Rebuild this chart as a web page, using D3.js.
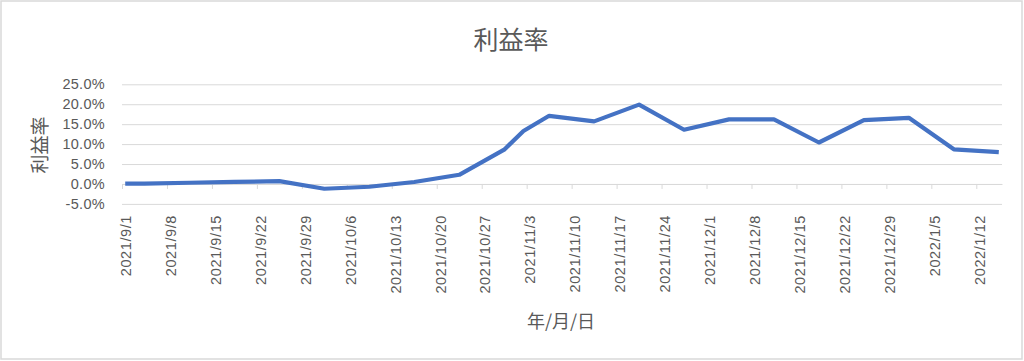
<!DOCTYPE html>
<html>
<head>
<meta charset="utf-8">
<script src="https://cdn.jsdelivr.net/npm/d3@7"></script>
<style>
  html, body { margin: 0; padding: 0; background: #fff; }
  svg { display: block; font-family: "Noto Sans CJK JP", "Noto Sans", sans-serif; }
</style>
</head>
<body>
<svg id="chart" width="1024" height="361"></svg>
<script>
// data (weekly points, percent)
const dates = [
    "2021/9/1", "2021/9/4", "2021/9/11", "2021/9/18", "2021/9/25",
    "2021/10/2", "2021/10/9", "2021/10/16", "2021/10/23", "2021/10/30",
    "2021/11/2", "2021/11/6", "2021/11/13", "2021/11/20", "2021/11/27",
    "2021/12/4", "2021/12/11", "2021/12/18", "2021/12/25",
    "2022/1/1", "2022/1/8", "2022/1/15"
]
const rates = [
    0.1, 0.1, 0.3, 0.5, 0.7,
    -1.2, -0.7, 0.5, 2.3, 8.6,
    13.3, 17.1, 15.7, 19.9, 13.6,
    16.2, 16.2, 10.4, 16.0,
    16.6, 8.7, 8.0
]
const xTickLabels = [
    "2021/9/1", "2021/9/8", "2021/9/15", "2021/9/22", "2021/9/29",
    "2021/10/6", "2021/10/13", "2021/10/20", "2021/10/27", "2021/11/3",
    "2021/11/10", "2021/11/17", "2021/11/24", "2021/12/1", "2021/12/8",
    "2021/12/15", "2021/12/22", "2021/12/29", "2022/1/5", "2022/1/12"
]
const yTicks = [-5, 0, 5, 10, 15, 20, 25]

const parse = d3.timeParse("%Y/%m/%d")
const fmt = d3.timeFormat("%Y/%-m/%-d")
const data = dates.map((d, i) => ({ date: parse(d), value: rates[i] }))
const tickDates = xTickLabels.map(parse)

const svg = d3.select("#chart")
const textColor = "#595959"
const gridColor = "#d9d9d9"

// chart area border
svg.append("rect")
    .attr("x", 1).attr("y", 1)
    .attr("width", 1021).attr("height", 358)
    .attr("fill", "#fff")
    .attr("stroke", gridColor)
    .attr("stroke-width", 1.5)

const left = 122, right = 1002
const start = parse("2021/9/1"), end = parse("2022/1/16")
const x = d3.scaleTime().domain([start, end]).range([left, right])
const y = d3.scaleLinear().domain([-5, 25]).range([203.9, 84.3])
const halfDay = (x(d3.timeDay.offset(start, 1)) - x(start)) / 2

// gridlines + y labels
const axisY = d3.axisLeft(y)
    .tickValues(yTicks)
    .tickSize(-(right - left))
    .tickPadding(17)
    .tickFormat(d => d.toFixed(1) + "%")
const gy = svg.append("g")
    .attr("transform", `translate(${left}, 0)`)
    .call(axisY)
gy.select(".domain").remove()
gy.selectAll("line").attr("stroke", gridColor).attr("stroke-width", 1)
gy.selectAll("text")
    .attr("fill", textColor)
    .style("font-size", "14.5px")
    .style("letter-spacing", "0.3px")

// category axis line at 0 with tick marks
const axisX = d3.axisBottom(x)
    .tickValues(tickDates)
    .tickSize(5)
    .tickSizeOuter(0)
    .tickFormat("")
const gx = svg.append("g")
    .attr("transform", `translate(0, ${y(0)})`)
    .call(axisX)
gx.selectAll("line, path").attr("stroke", gridColor).attr("stroke-width", 1)

// x labels (low position, rotated)
const axisXLabels = d3.axisBottom(x)
    .tickValues(tickDates)
    .tickSize(0)
    .tickFormat(fmt)
const gxl = svg.append("g")
    .attr("transform", `translate(${halfDay}, 211)`)
    .call(axisXLabels)
gxl.select(".domain").remove()
gxl.selectAll("text")
    .attr("y", 0)
    .attr("dy", "0.35em")
    .attr("transform", "rotate(-90)")
    .attr("text-anchor", "end")
    .attr("x", -4)
    .attr("fill", textColor)
    .style("font-size", "14.5px")
    .style("letter-spacing", "0.6px")

// line
const line = d3.line()
    .x(d => x(d.date) + halfDay)
    .y(d => y(d.value))
svg.append("path")
    .datum(data)
    .attr("fill", "none")
    .attr("stroke", "#4472C4")
    .attr("stroke-width", 4.2)
    .attr("stroke-linejoin", "round")
    .attr("d", line)

// titles
svg.append("text")
    .attr("x", 511).attr("y", 38)
    .attr("text-anchor", "middle")
    .attr("dominant-baseline", "central")
    .attr("fill", textColor)
    .style("font-size", "25px")
    .text("利益率")

svg.append("text")
    .attr("transform", "translate(38, 145) rotate(-90)")
    .attr("text-anchor", "middle")
    .attr("dominant-baseline", "central")
    .attr("fill", textColor)
    .style("font-size", "19px")
    .text("利益率")

svg.append("text")
    .attr("x", 561).attr("y", 320)
    .attr("text-anchor", "middle")
    .attr("dominant-baseline", "central")
    .attr("fill", textColor)
    .style("font-size", "18px")
    .text("年/月/日")
</script>
</body>
</html>
